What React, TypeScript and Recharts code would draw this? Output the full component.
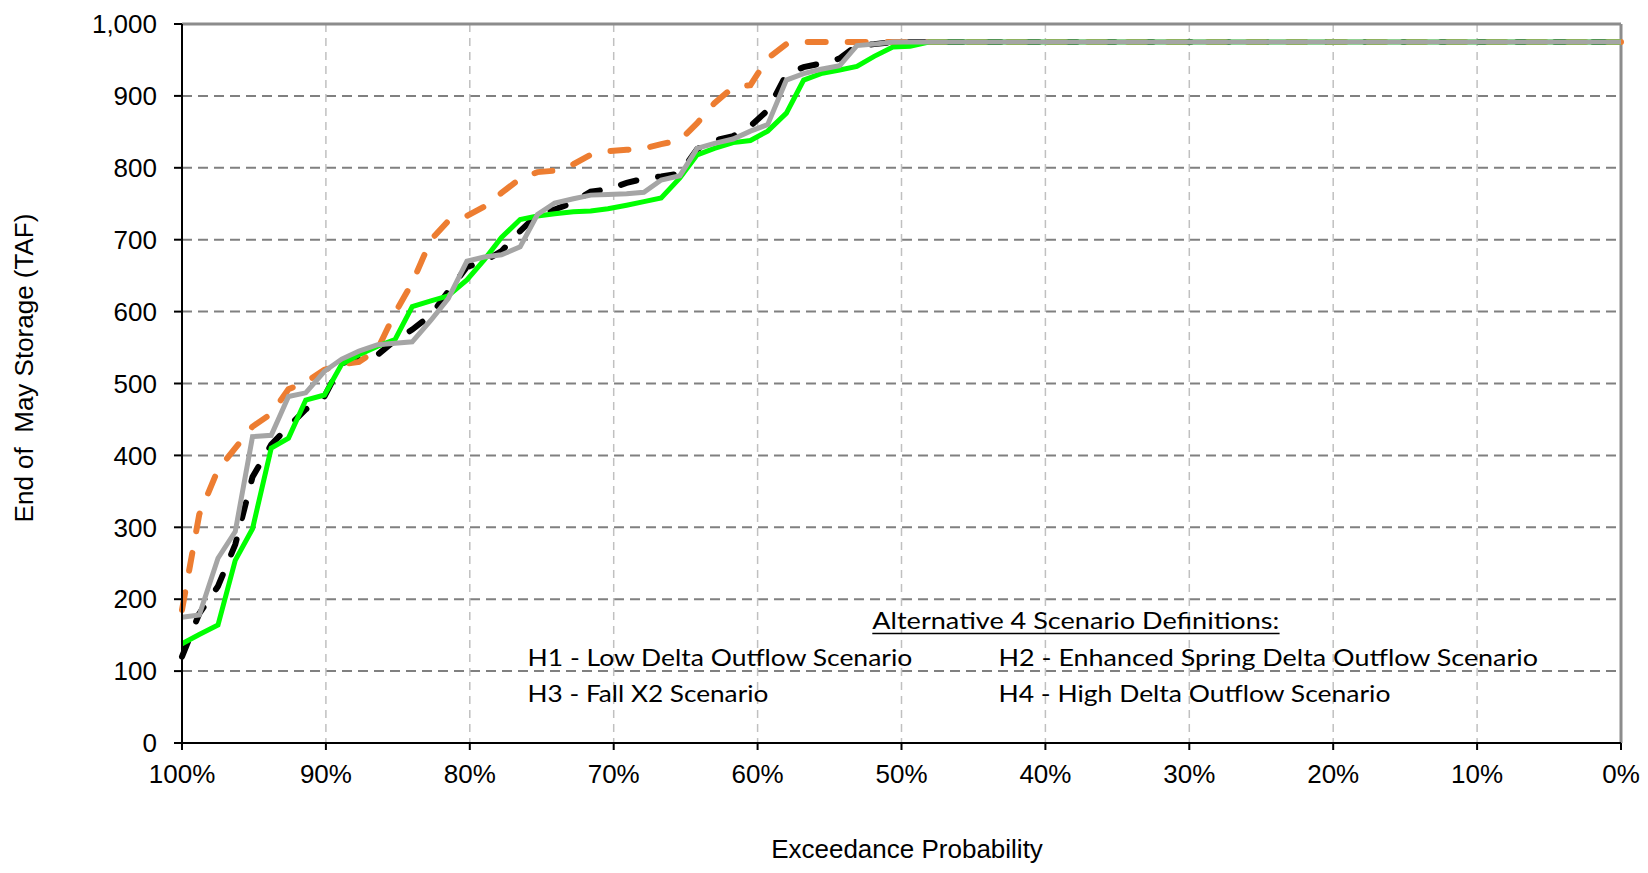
import React from "react";
import {
  LineChart,
  Line,
  XAxis,
  YAxis,
  CartesianGrid,
  ReferenceLine,
} from "recharts";

// exceedance probability (%) of each ranked year, plateau collapsed to last point
const probability = [
  100, 98.8, 97.5, 96.3, 95.1, 93.8, 92.6, 91.4, 90.1, 88.9, 87.7, 86.4, 85.2,
  84.0, 82.7, 81.5, 80.2, 79.0, 77.8, 76.5, 75.3, 74.1, 72.8, 71.6, 70.4, 69.1,
  67.9, 66.7, 65.4, 64.2, 63.0, 61.7, 60.5, 59.3, 58.0, 56.8, 55.6, 54.3, 53.1,
  51.9, 50.6, 49.4, 48.1, 0,
];

// end of May storage (TAF)
const h1Storage = [
  120, 180, 218, 276, 370, 415, 440, 464, 482, 528, 535, 540, 560, 575, 595,
  628, 662, 670, 684, 712, 735, 742, 752, 767, 770, 779, 785, 788, 792, 826,
  838, 844, 858, 880, 930, 940, 945, 952, 970, 972, 975, 975, 975, 975,
];
const h2Storage = [
  185, 318, 380, 410, 440, 458, 492, 502, 519, 527, 530, 548, 598, 640, 700,
  726, 733, 746, 765, 785, 794, 796, 805, 818, 823, 825, 827, 833, 838, 862,
  890, 912, 915, 952, 972, 975, 975, 975, 975, 975, 975, 975, 975, 975,
];
const h3Storage = [
  138, 151, 164, 254, 298, 410, 424, 477, 484, 527, 540, 552, 561, 607, 615,
  622, 644, 672, 703, 728, 733, 736, 739, 740, 743, 748, 753, 758, 786, 818,
  827, 835, 838, 851, 876, 922, 931, 936, 941, 955, 968, 969, 975, 975,
];
const h4Storage = [
  175, 178, 257, 294, 426, 428, 482, 487, 517, 534, 545, 554, 556, 558, 588,
  618, 670, 676, 679, 690, 735, 751, 757, 762, 763, 764, 766, 783, 789, 827,
  834, 840, 851, 860, 922, 931, 937, 942, 970, 972, 975, 975, 975, 975,
];

const xTicks = [0, 10, 20, 30, 40, 50, 60, 70, 80, 90, 100];
const yTicks = [0, 100, 200, 300, 400, 500, 600, 700, 800, 900, 1000];

const definitions = [
  "H1 - Low Delta Outflow Scenario",
  "H2 - Enhanced Spring Delta Outflow Scenario",
  "H3 - Fall X2 Scenario",
  "H4 - High Delta Outflow Scenario",
];

const data = probability.map((p, i) => ({
  p,
  h1: h1Storage[i],
  h2: h2Storage[i],
  h3: h3Storage[i],
  h4: h4Storage[i],
}));

const W = 1632;
const H = 857;
const axisFont = "'Liberation Sans', Arial, sans-serif";
const noteFont = "Lato, 'Open Sans', sans-serif";

// where each definition line sits and how wide it is
const notePos = [
  { x: 519.6, y: 658, len: 384.7 },
  { x: 990.5, y: 658, len: 539.5 },
  { x: 519.6, y: 694, len: 240.7 },
  { x: 990.5, y: 694, len: 392 },
];

export default function App() {
  return (
    <div style={{ position: "relative", width: W, height: H }}>
      <LineChart
        width={W}
        height={H}
        data={data}
        margin={{ top: 16, right: 19, left: 0, bottom: 62 }}
      >
        <CartesianGrid
          vertical={false}
          stroke="#808080"
          strokeWidth={2}
          strokeDasharray="10 6"
        />
        <CartesianGrid
          horizontal={false}
          stroke="#c0c0c0"
          strokeWidth={1.5}
          strokeDasharray="8 6"
        />
        <XAxis
          dataKey="p"
          type="number"
          domain={[0, 100]}
          ticks={xTicks}
          reversed
          height={60}
          tickSize={7}
          tickMargin={15}
          tickFormatter={(v) => `${v}%`}
          stroke="#000"
          strokeWidth={2}
          tick={{ fill: "#000", fontSize: 26, fontFamily: axisFont }}
        />
        <YAxis
          type="number"
          domain={[0, 1000]}
          ticks={yTicks}
          width={174}
          tickSize={8}
          tickMargin={17}
          tickFormatter={(v) => v.toLocaleString("en-US")}
          stroke="#000"
          strokeWidth={2}
          tick={{ fill: "#000", fontSize: 26, fontFamily: axisFont }}
        />
        <ReferenceLine y={1000} stroke="#8c8c8c" strokeWidth={3} />
        <ReferenceLine x={0} stroke="#8c8c8c" strokeWidth={3} />
        <Line
          dataKey="h1"
          stroke="#000000"
          strokeWidth={6}
          strokeDasharray="16 22"
          strokeLinecap="round"
          dot={false}
          activeDot={false}
          isAnimationActive={false}
        />
        <Line
          dataKey="h2"
          stroke="#ed7d31"
          strokeWidth={6}
          strokeDasharray="18 22"
          strokeLinecap="round"
          dot={false}
          activeDot={false}
          isAnimationActive={false}
        />
        <Line
          dataKey="h3"
          stroke="#00ff00"
          strokeWidth={5}
          dot={false}
          activeDot={false}
          isAnimationActive={false}
        />
        <Line
          dataKey="h4"
          stroke="#a5a5a5"
          strokeWidth={5}
          dot={false}
          activeDot={false}
          isAnimationActive={false}
        />
      </LineChart>
      <svg
        width={W}
        height={H}
        style={{ position: "absolute", left: 0, top: 0, pointerEvents: "none" }}
      >
        <text
          transform="translate(25, 360) rotate(-90)"
          textAnchor="middle"
          fontSize={26}
          fontFamily={axisFont}
          fill="#000"
          style={{ whiteSpace: "pre" }}
        >
          {"End of  May Storage (TAF)"}
        </text>
        <text
          x={899}
          y={850}
          textAnchor="middle"
          fontSize={26}
          fontFamily={axisFont}
          fill="#000"
        >
          Exceedance Probability
        </text>
        <text
          x={864.3}
          y={621.3}
          fontSize={23}
          fontFamily={noteFont}
          fill="#000"
          textLength={407}
          lengthAdjust="spacingAndGlyphs"
        >
          Alternative 4 Scenario Definitions:
        </text>
        <line x1={864.3} x2={1271.6} y1={625.5} y2={625.5} stroke="#000" strokeWidth={1.5} />
        {definitions.map((t, i) => (
          <text
            key={t}
            x={notePos[i].x}
            y={notePos[i].y}
            fontSize={23}
            fontFamily={noteFont}
            fill="#000"
            textLength={notePos[i].len}
            lengthAdjust="spacingAndGlyphs"
          >
            {t}
          </text>
        ))}
      </svg>
    </div>
  );
}
